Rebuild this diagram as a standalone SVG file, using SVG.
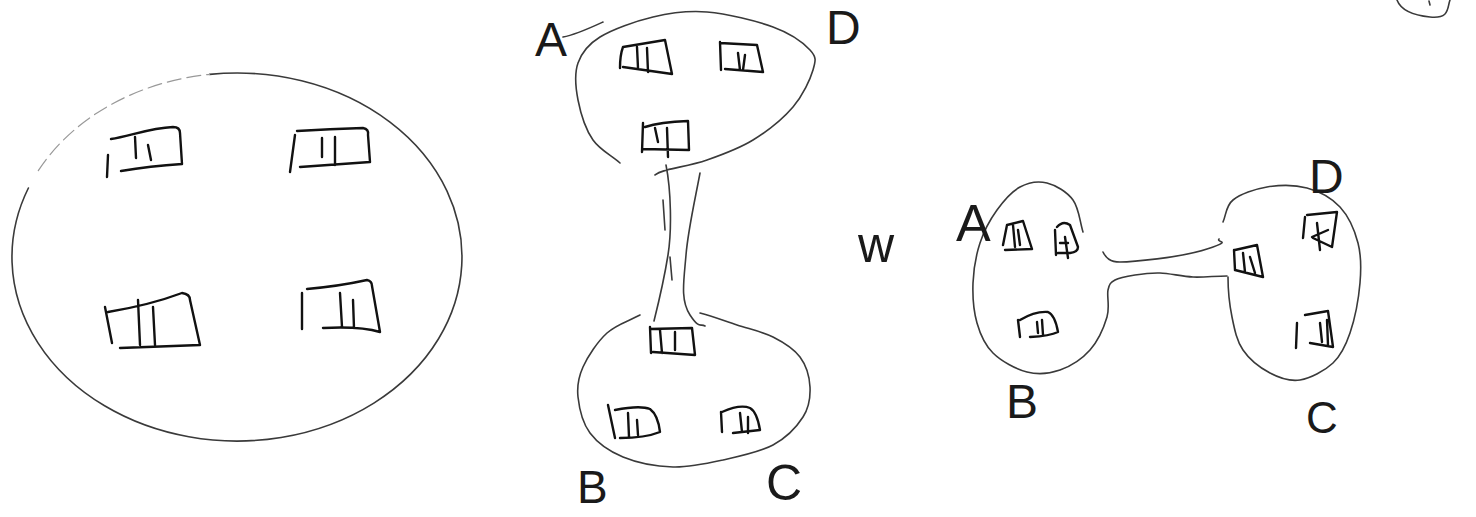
<svg xmlns="http://www.w3.org/2000/svg" width="1476" height="517" viewBox="0 0 1476 517">
<style>
.blob{fill:none;stroke:#3a3a3a;stroke-width:1.6;stroke-linecap:round;stroke-linejoin:round}
.faint{fill:none;stroke:#999;stroke-width:1.2;stroke-dasharray:14 6;stroke-linecap:round}
.icon{fill:none;stroke:#111;stroke-width:2.4;stroke-linecap:round;stroke-linejoin:round}
.lbl{font-family:"Liberation Sans",Arial,sans-serif;fill:#1a1a1a;font-weight:normal}
</style>
<rect width="1476" height="517" fill="#ffffff"/>

<g id="cluster-left">
  <path class="blob" d="M28.4,188 A225,184 0 1 0 209.6,74.4"/>
  <path class="faint" d="M38.3,170.7 A225,184 0 0 1 209.6,74.4"/>
  <g id="server-L1"><path class="icon" d="M111,139 C130,136 150,128 173,127 Q180,127 180,133 L182,164 Q150,166 121,171 M108,155 L107,177 M135,137 L136,158 M148,145 L151,160"/></g>
  <g id="server-L2"><path class="icon" d="M297,131 Q330,129 363,128 Q369,129 368,135 L370,162 L300,167 M295,135 L290,172 M322,138 L322,157 M335,137 L335,165"/></g>
  <g id="server-L3"><path class="icon" d="M108,312 Q150,305 182,293 Q190,294 190,300 L200,345 L120,348 M105,307 L112,343 M138,300 L140,345 M153,307 L155,345"/></g>
  <g id="server-L4"><path class="icon" d="M307,289 Q340,286 367,280 Q372,281 372,286 L380,332 Q360,326 323,328 M302,293 L302,329 M340,293 L342,327 M353,300 L354,328"/></g>
</g>

<g id="cluster-mid-top">
  <path class="blob" d="M620,163 C611,155 600,150 593,140 S580.5,112.8 578,100 S574.3,73.5 578,63 S587.5,44.7 600,37 S635.2,21.2 653,17 S687,10.3 707,12 S755.8,20.7 773,27 S803.3,42.8 810,50 S815.8,60.5 813,70 S803,95.3 793,107 S767.3,131.2 753,140 S721.3,155 707,160 S675.7,167.5 667,170 S659,172 655,175"/>
  <g id="server-MA1"><path class="icon" d="M620,68 Q620,55 623,47 L665,40 L672,74 L623,67 M637,47 L638,68 M647,48 L648,72"/></g>
  <g id="server-MA2"><path class="icon" d="M720,42 L721,70 M720,43 L757,45 L763,72 L725,69 M738,53 L740,70 M745,55 L743,70"/></g>
  <g id="server-MA3"><path class="icon" d="M645,127 Q660,122 688,121 L689,150 L643,149 M643,123 L642,152 M655,128 L658,142 M667,128 L668,157"/></g>
</g>

<g id="cluster-mid-bottom">
  <path class="blob" d="M640,315 C629,321 616.5,324.3 607,333 S587.8,356.3 583,367 S576.8,386 578,397 S582.5,423 590,433 S609.2,451.3 623,457 S656.3,466.5 673,467 S706.3,463.7 723,460 S759.7,452.2 773,445 S796.8,426.7 803,417 S810.5,397 810,387 S806.2,365.3 800,357 S783.5,342.3 773,337 S749.2,329 737,325 S712,316 700,313"/>
  <g id="server-MB1"><path class="icon" d="M650,329 L692,328 L695,355 L653,352 M650,327 L651,353 M660,330 L662,353 M675,332 L675,350"/></g>
  <g id="server-MB2"><path class="icon" d="M608,405 L615,438 M615,410 Q640,405 650,409 Q658,415 660,432 Q645,438 620,438 M628,413 L629,437 M637,420 L638,435"/></g>
  <g id="server-MB3"><path class="icon" d="M721,412 L722,432 M722,412 Q740,404 750,408 Q757,412 760,430 L733,433 M740,413 L742,432 M748,417 L748,433"/></g>
</g>

<g id="cluster-right-ab">
  <g id="server-RA1"><path class="icon" d="M1003,245 L1007,225 L1023,221 L1032,249 L1005,250 M1013,225 L1015,247 M1018,230 L1020,245"/></g>
  <g id="server-RA2"><path class="icon" d="M1055,230 L1056,255 M1057,227 Q1063,220 1070,225 L1078,247 Q1078,252 1070,253 L1058,253 M1065,237 L1068,258 M1060,243 L1068,243"/></g>
  <g id="server-RB"><path class="icon" d="M1018,320 L1020,337 M1020,320 Q1035,311 1048,312 Q1055,315 1058,332 Q1050,336 1030,337 M1037,322 L1038,333 M1042,320 L1043,335"/></g>
</g>

<g id="cluster-right-cd">
  <path class="blob" d="M1223,222 C1226.3,214.7 1225.7,205.8 1233,200 S1254.7,189 1267,187 S1294.8,184.7 1307,188 S1331.5,197.8 1340,207 S1354.7,230.3 1358,243 S1361.3,268 1360,283 S1354.5,319.7 1350,333 S1341.3,355.2 1333,363 S1310.5,378.3 1300,380 S1279.5,378 1270,373 S1249.3,359.3 1243,350 S1234.5,329.2 1232,317 S1228,290 1228,277"/>
  <g id="server-RC1"><path class="icon" d="M1234,250 L1235,270 M1235,250 L1257,245 L1263,277 L1235,270 M1243,253 L1245,272 M1250,257 L1255,273"/></g>
  <g id="server-RD1"><path class="icon" d="M1307,215 L1337,212 L1332,247 L1313,238 M1305,217 L1303,238 M1317,223 L1320,250 M1312,237 L1328,230"/></g>
  <g id="server-RD2"><path class="icon" d="M1297,323 L1296,348 M1305,315 L1328,311 L1333,347 L1310,343 M1320,323 L1322,342 M1327,320 L1328,345"/></g>
</g>

<g id="connectors">
  <path class="blob" d="M666,165 C671,190 672,230 668,255 S658,305 654,321"/>
  <path class="blob" d="M663,200 L665,230 M670,257 L672,280" stroke-width="1.2"/>
  <path class="blob" d="M700,173 C695,200 688,230 686,255 S680,300 690,315 S700,323 705,326"/>
  <path class="blob" d="M1083,232 C1079.7,221.3 1079,208.2 1073,200 S1055.8,185.2 1047,183 S1028.3,182.5 1020,187 S1003.7,200.7 997,210 S984,230.8 980,243 S973.5,269.7 973,283 S973.7,311.3 977,323 S984.7,344.8 993,353 S1015.8,369.2 1027,372 S1049.5,373.7 1060,370 S1082.2,358.8 1090,350 S1104,327 1107,317 S1106.7,296.2 1108,290 S1110.5,282.5 1115,280 S1127.5,276.2 1135,275 S1150.3,272.7 1160,273 S1181.8,276.5 1193,277 S1215,276 1227,276"/>
  <path class="blob" d="M1103,252 C1106,258 1110,262 1120,262 S1180,258 1207,249 S1216,243 1219,239"/>
</g>

<g id="corner-mark">
  <path class="blob" d="M1397,0 C1400,8 1410,15 1430,17 S1447,8 1450,0 M1429,1 L1430,5"/>
</g>

<g id="labels">
  <text class="lbl" x="535" y="56" font-size="48">A</text>
  <path class="blob" d="M563,37 C575,35 590,28 603,22"/>
  <text class="lbl" x="826" y="44" font-size="48">D</text>
  <text class="lbl" x="577" y="503" font-size="46">B</text>
  <text class="lbl" x="766" y="500" font-size="50">C</text>
  <text class="lbl" x="858" y="262" font-size="50">w</text>
  <text class="lbl" x="956" y="241" font-size="52">A</text>
  <text class="lbl" x="1006" y="418" font-size="48">B</text>
  <text class="lbl" x="1309" y="193" font-size="48">D</text>
  <text class="lbl" x="1306" y="433" font-size="44">C</text>
</g>
</svg>
